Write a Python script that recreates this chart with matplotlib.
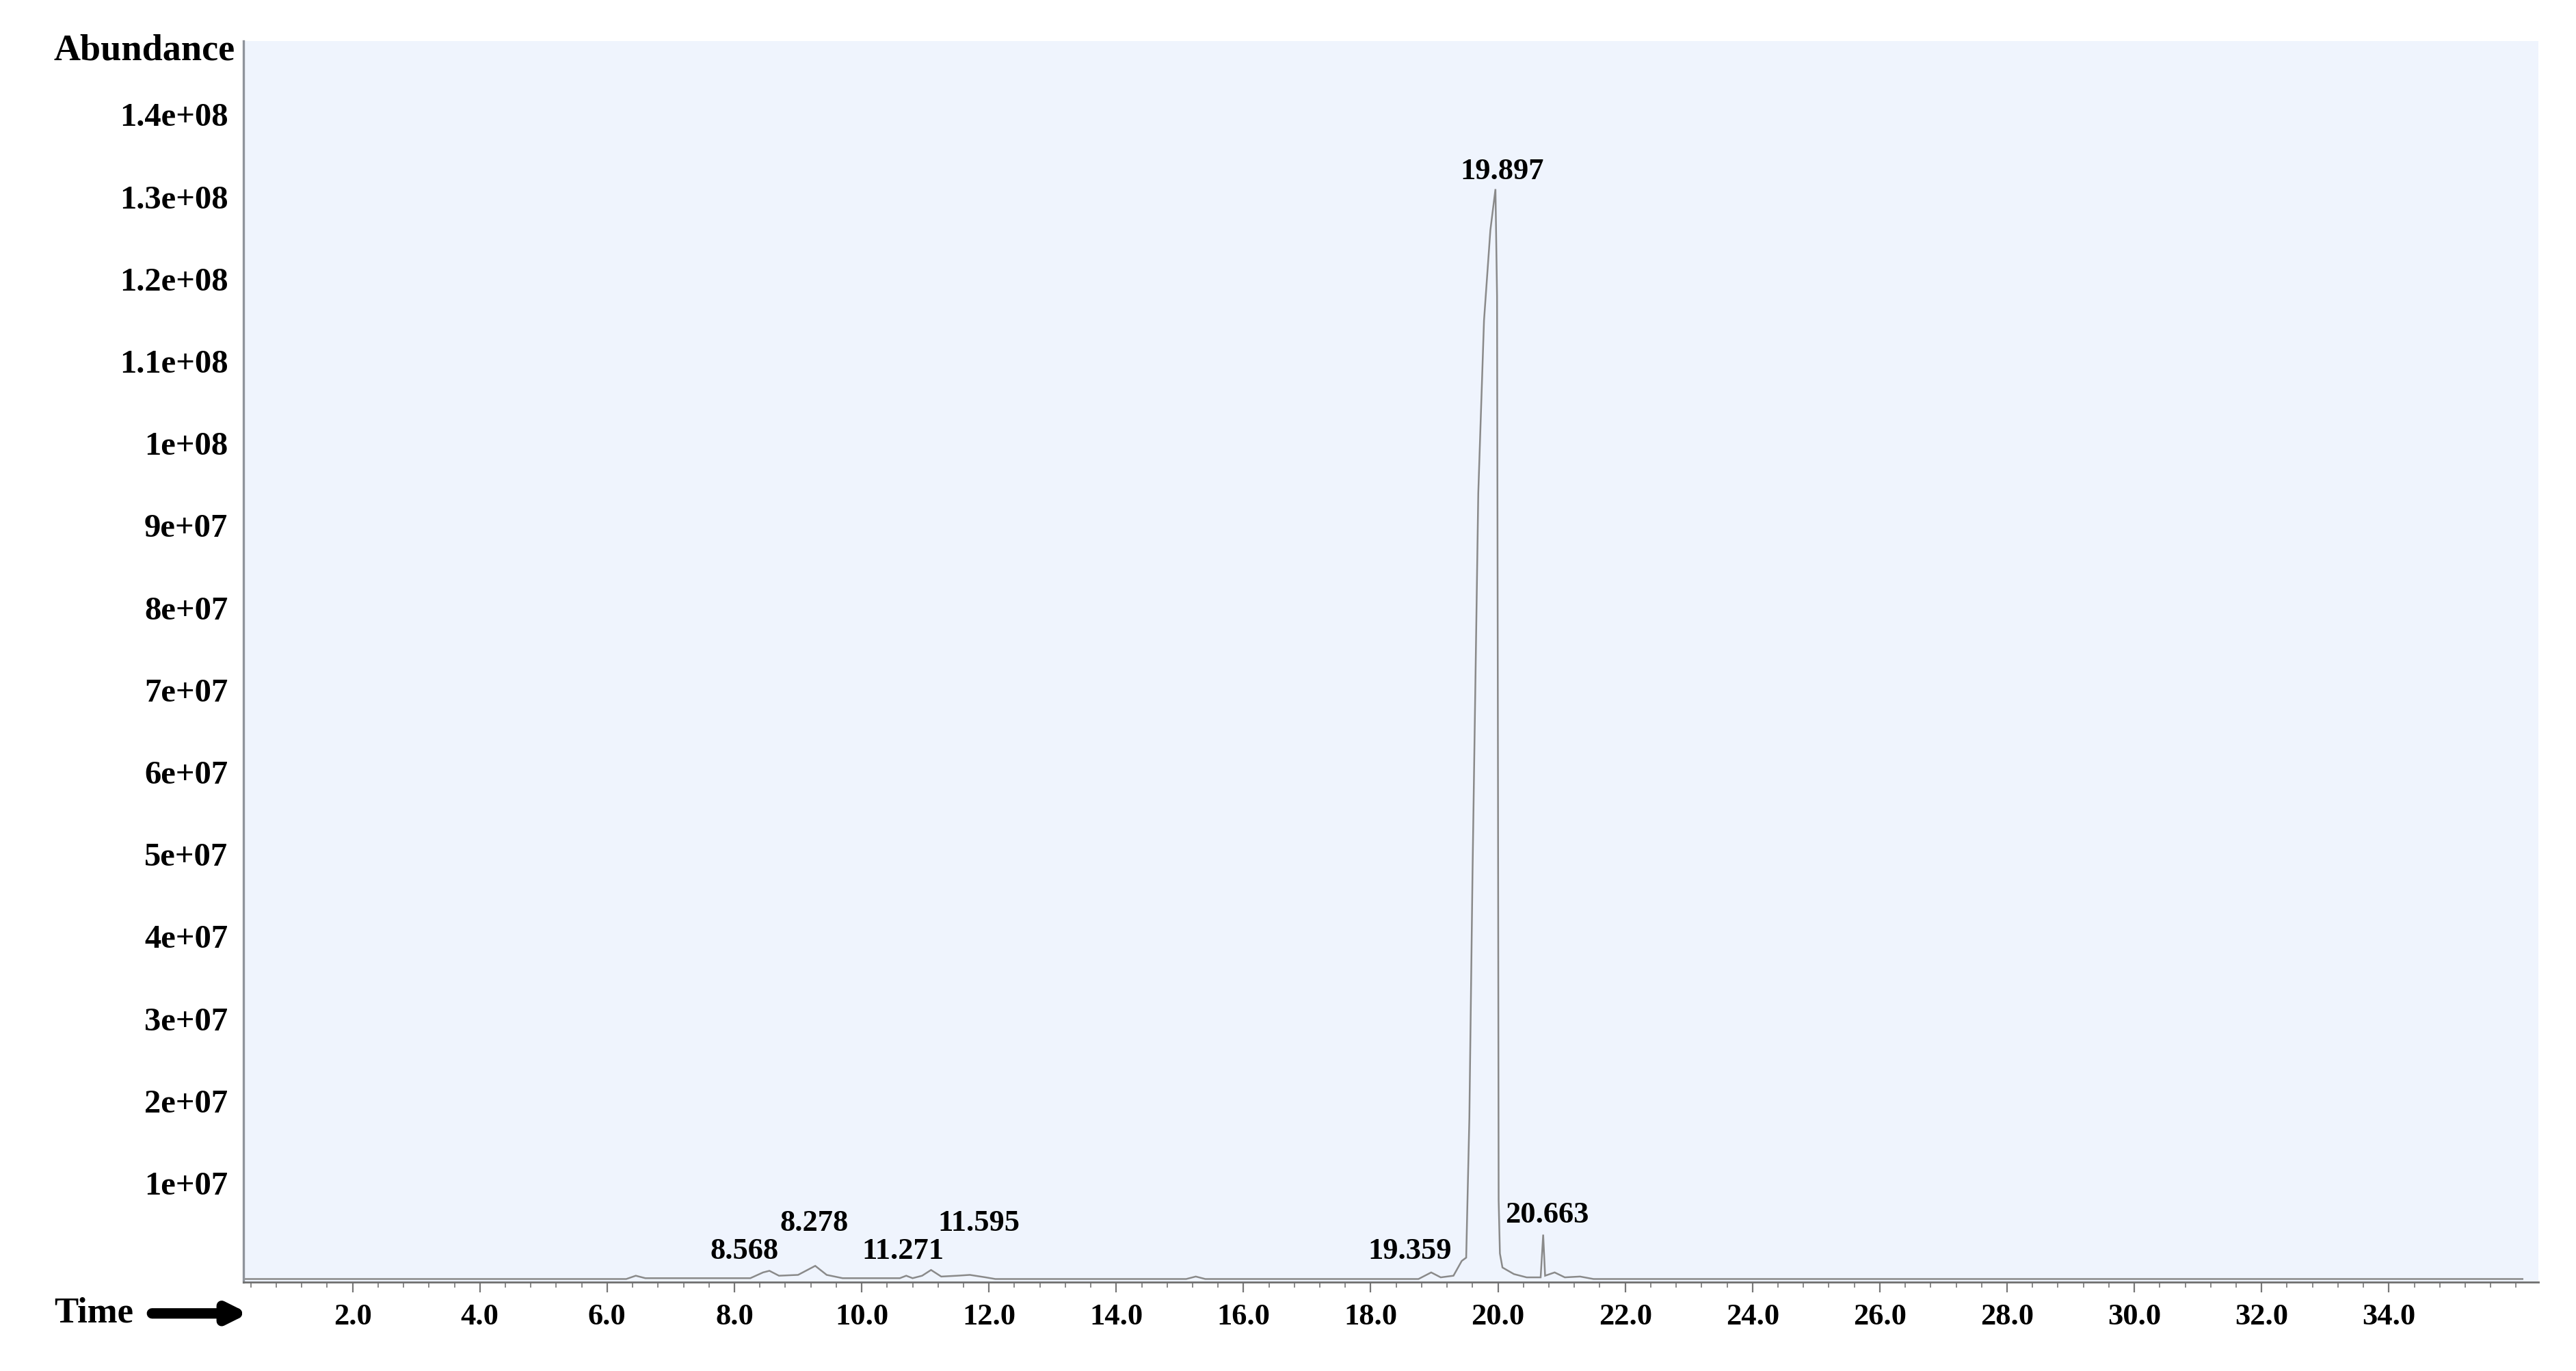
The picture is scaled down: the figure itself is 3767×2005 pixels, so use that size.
"""
GC-MS total ion chromatogram redrawn from a scanned figure.
Values were read off the picture (time in min, abundance in counts).
"""

import matplotlib
matplotlib.use("Agg")  # no display needed
import matplotlib.pyplot as plt
from matplotlib.ticker import FixedLocator, MultipleLocator
from matplotlib.transforms import ScaledTranslation

# ---- data ---------------------------------------------------------------
time_min = [0.28, 6.30, 6.45, 6.60, 8.25, 8.45, 8.55, 8.70, 9.00, 9.27,
            9.45, 9.70, 10.60, 10.70, 10.80, 10.95, 11.09, 11.25, 11.50, 11.70,
            11.95, 12.10, 15.10, 15.25, 15.40, 18.75, 18.95, 19.10, 19.30, 19.43,
            19.50, 19.55, 19.60, 19.69, 19.78, 19.88, 19.96, 19.985, 20.00, 20.01,
            20.03, 20.07, 20.25, 20.45, 20.67, 20.71, 20.74, 20.89, 21.05, 21.29,
            21.50, 36.10]
abundance = [4e5, 4e5, 8e5, 5e5, 5e5, 1.2e6, 1.4e6, 8e5, 9e5, 2.0e6,
             9e5, 5e5, 5e5, 8e5, 5e5, 8e5, 1.5e6, 7e5, 8e5, 9e5,
             6e5, 4e5, 4e5, 7e5, 4e5, 4e5, 1.2e6, 6e5, 8e5, 2.6e6,
             3.0e6, 2.0e7, 5.0e7, 9.6e7, 1.17e8, 1.28e8, 1.33e8, 1.20e8, 6.0e7, 1.0e7,
             3.5e6, 1.8e6, 1.0e6, 6e5, 6e5, 5.8e6, 8e5, 1.2e6, 6e5, 7e5,
             4e5, 4e5]

peak_labels = ["8.568", "8.278", "11.271", "11.595", "19.359", "19.897", "20.663"]
label_time = [8.16, 9.25, 10.65, 11.84, 18.61, 20.06, 20.77]
label_abund = [3.8e6, 7.2e6, 3.8e6, 7.2e6, 3.8e6, 1.351e8, 8.2e6]

ytick_vals = [1e7, 2e7, 3e7, 4e7, 5e7, 6e7, 7e7, 8e7, 9e7, 1e8, 1.1e8, 1.2e8, 1.3e8, 1.4e8]
ytick_text = ["1e+07", "2e+07", "3e+07", "4e+07", "5e+07", "6e+07", "7e+07",
              "8e+07", "9e+07", "1e+08", "1.1e+08", "1.2e+08", "1.3e+08", "1.4e+08"]
xtick_vals = [2.0, 4.0, 6.0, 8.0, 10.0, 12.0, 14.0, 16.0, 18.0, 20.0, 22.0,
              24.0, 26.0, 28.0, 30.0, 32.0, 34.0]
xtick_text = [f"{v:.1f}" for v in xtick_vals]

# ---- figure -------------------------------------------------------------
plt.rcParams["font.family"] = ["Liberation Serif", "DejaVu Serif"]
plt.rcParams["font.weight"] = "bold"

fig = plt.figure(figsize=(37.67, 20.05), dpi=100)
ax = fig.add_axes([0.0944, 0.0647, 0.8910, 0.9053])
ax.set_facecolor("#eff4fd")

ax.plot(time_min, abundance, color="#8a8a8a", lw=1.8, solid_joinstyle="miter")

for txt, t, a in zip(peak_labels, label_time, label_abund):
    ax.text(t, a, txt, ha="center", va="center", fontsize=32, fontweight="bold")

ax.set_xlim(0.28, 36.35)
ax.set_ylim(0, 1.51e8)

ax.xaxis.set_major_locator(FixedLocator(xtick_vals))
ax.xaxis.set_minor_locator(MultipleLocator(0.4))
ax.set_xticklabels(xtick_text)
ax.yaxis.set_major_locator(FixedLocator(ytick_vals))
ax.set_yticklabels(ytick_text)

ax.tick_params(axis="x", which="major", direction="out", length=11, width=1.6,
               color="#777777", pad=11, labelsize=32)
ax.tick_params(axis="x", which="minor", direction="out", length=6, width=1.4,
               color="#888888")
ax.tick_params(axis="y", length=0, pad=16, labelsize=35)

# the scanned y labels sit a little above their true tick heights
shift = ScaledTranslation(0, 0.25, fig.dpi_scale_trans)
for lbl in ax.get_yticklabels():
    lbl.set_transform(lbl.get_transform() + shift)

for side in ("top", "right"):
    ax.spines[side].set_visible(False)
ax.spines["left"].set_color("#8f949c")
ax.spines["left"].set_linewidth(2.4)
ax.spines["bottom"].set_color("#6f6f6f")
ax.spines["bottom"].set_linewidth(2.0)

fig.text(0.0912, 0.963, "Abundance", ha="right", va="center", fontsize=39,
         fontweight="bold")
fig.text(0.021, 0.042, "Time", ha="left", va="center", fontsize=38,
         fontweight="bold")
ax.annotate("", xy=(0.0965, 0.042), xytext=(0.059, 0.042),
            xycoords="figure fraction", textcoords="figure fraction",
            arrowprops=dict(arrowstyle="-|>", lw=11, color="black",
                            mutation_scale=40, shrinkA=0, shrinkB=0))

fig.savefig("out.png", dpi=100, facecolor="white")
